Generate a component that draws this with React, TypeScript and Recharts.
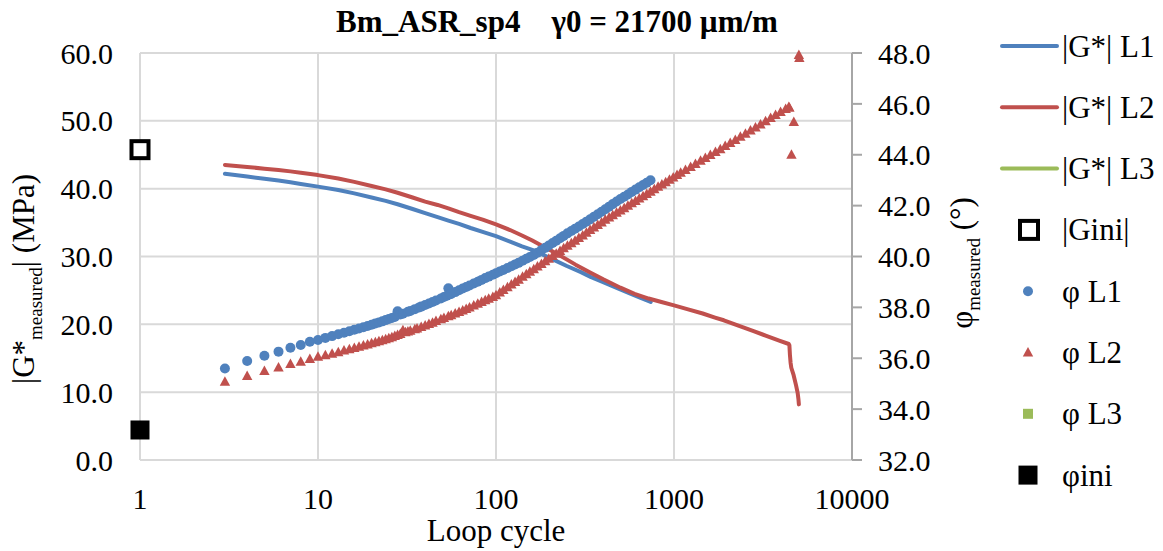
import React from 'react';
import { ComposedChart, Line, Scatter, XAxis, YAxis, CartesianGrid } from 'recharts';

const FONT = '"Liberation Serif", "Times New Roman", Times, serif';
const BLUE = '#4f81bd';
const RED = '#c0504d';
const GREEN = '#9bbb59';
const GRID = '#d9d9d9';
const AXIS = '#a6a6a6';

const xTicks = [1, 10, 100, 1000, 10000];
const leftTicks = [0, 10, 20, 30, 40, 50, 60];
const rightTicks = [32, 34, 36, 38, 40, 42, 44, 46, 48];

// |G*| L1 (MPa, left axis)
const gL1Cycles = [3, 4, 5, 6, 7, 8, 10, 13, 16, 20, 24, 28, 34, 40, 47, 54, 62, 72, 85, 100, 120, 140, 163, 200, 250, 300, 340, 400, 480, 560, 650, 740];
const gL1Values = [42.2, 41.8, 41.45, 41.2, 40.95, 40.7, 40.3, 39.8, 39.3, 38.7, 38.2, 37.7, 37.0, 36.4, 35.8, 35.3, 34.8, 34.2, 33.6, 33.0, 32.2, 31.5, 30.9, 29.8, 28.6, 27.7, 27.0, 26.2, 25.35, 24.6, 23.9, 23.3];

// |G*| L2 (MPa, left axis)
const gL2Cycles = [3, 4, 5, 6, 7, 8, 10, 13, 16, 20, 24, 28, 34, 40, 47, 54, 62, 72, 85, 100, 120, 140, 160, 178, 220, 280, 340, 403, 500, 600, 720, 850, 1000, 1200, 1450, 1700, 1905, 2300, 2800, 3300, 3900, 4415, 4450, 4480, 4520, 4560, 4700, 4850, 4950, 5000, 5030];
const gL2Values = [43.5, 43.2, 42.95, 42.75, 42.55, 42.35, 42.0, 41.5, 41.0, 40.4, 39.9, 39.4, 38.7, 38.1, 37.6, 37.1, 36.55, 36.0, 35.4, 34.75, 33.9, 33.1, 32.35, 31.7, 30.4, 28.8, 27.6, 26.6, 25.4, 24.5, 23.8, 23.3, 22.8, 22.2, 21.6, 21.0, 20.6, 19.8, 19.0, 18.3, 17.6, 17.1, 16.9, 15.5, 14.3, 13.6, 12.5, 11.0, 9.9, 9.0, 8.2];

// |Gini| (MPa, left axis)
const giniCycles = [1];
const giniValues = [45.75];

// φ L1 (°, right axis)
const phiL1Cycles = [3, 4, 5, 6, 7, 8, 9, 10, 11, 12, 13, 14, 15, 16, 17, 18, 19, 20, 21, 22, 23, 24, 25, 26, 27, 28, 29,
  30, 32, 33, 35, 37, 38, 40, 42, 44, 46, 49, 51, 53, 54, 55, 56, 59, 62, 65, 68, 71, 75, 79, 83, 87, 91, 96, 100,
  105, 110, 116, 122, 128, 134, 141, 148, 155, 163, 171, 180, 189, 198, 208, 218, 229, 240, 252, 265, 278, 292, 307,
  322, 338, 355, 373, 392, 411, 432, 453, 476, 500, 525, 551, 579, 608, 638, 670, 703, 738];
const phiL1Values = [35.6, 35.89, 36.1, 36.26, 36.41, 36.52, 36.65, 36.72, 36.8, 36.87, 36.94, 37.0, 37.06, 37.12, 37.17, 37.22, 37.27, 37.32, 37.37, 37.41, 37.45, 37.5, 37.54, 37.58, 37.62, 37.85, 37.72,
  37.75, 37.83, 37.86, 37.93, 38.0, 38.03, 38.09, 38.15, 38.21, 38.27, 38.35, 38.41, 38.46, 38.75, 38.52, 38.53, 38.6, 38.67, 38.74, 38.8, 38.86, 38.94, 39.01, 39.08, 39.15, 39.21, 39.28, 39.34,
  39.41, 39.47, 39.55, 39.62, 39.69, 39.75, 39.83, 39.91, 39.98, 40.06, 40.15, 40.25, 40.34, 40.43, 40.53, 40.62, 40.72, 40.81, 40.91, 41.0, 41.09, 41.18, 41.28,
  41.37, 41.46, 41.56, 41.66, 41.76, 41.86, 41.96, 42.06, 42.16, 42.26, 42.35, 42.44, 42.54, 42.63, 42.72, 42.81, 42.9, 43.0];

// φ L2 (°, right axis)
const phiL2Cycles = [3, 4, 5, 6, 7, 8, 9, 10, 11, 12, 13, 14, 15, 16, 17, 18, 19, 20, 21, 22, 23, 24, 25, 26, 27, 28, 29,
  30, 31, 32, 33, 35, 36, 38, 40, 42, 44, 46, 49, 51, 54, 56, 59, 62, 65, 68, 71, 75, 79, 83, 87, 91, 96, 100,
  105, 110, 116, 122, 128, 134, 141, 148, 155, 163, 171, 180, 189, 198, 208, 218, 229, 240, 252, 265, 278, 292, 307,
  322, 338, 355, 373, 392, 411, 432, 453, 476, 500, 525, 551, 579, 608, 638, 670, 703, 738, 775, 814, 855, 898, 943, 990, 1040,
  1090, 1160, 1240, 1320, 1410, 1500, 1600, 1710, 1820, 1940, 2070, 2210, 2360, 2520, 2690, 2870, 3060, 3270, 3490, 3720, 3970, 4240, 4415,
  4450, 4570, 4710, 5030, 5060];
const phiL2Values = [35.08, 35.3, 35.5, 35.64, 35.77, 35.86, 35.97, 36.06, 36.12, 36.18, 36.24, 36.3, 36.35, 36.4, 36.45, 36.5, 36.54, 36.59, 36.63, 36.67, 36.71, 36.75, 36.79, 36.83, 36.87, 36.91, 36.95,
  37.1, 37.02, 37.05, 37.08, 37.14, 37.17, 37.23, 37.29, 37.35, 37.4, 37.46, 37.53, 37.58, 37.65, 37.69, 37.76, 37.82, 37.88, 37.94, 38.0, 38.07, 38.14, 38.21, 38.28, 38.34, 38.41, 38.48,
  38.58, 38.68, 38.79, 38.9, 39.0, 39.09, 39.2, 39.3, 39.4, 39.5, 39.61, 39.71, 39.81, 39.91, 40.02, 40.11, 40.22, 40.32, 40.42, 40.52, 40.62, 40.73, 40.83,
  40.93, 41.04, 41.14, 41.24, 41.34, 41.44, 41.53, 41.62, 41.72, 41.81, 41.9, 42.0, 42.09, 42.18, 42.28, 42.37, 42.46, 42.55, 42.64, 42.74, 42.83, 42.92, 43.02, 43.11, 43.2,
  43.29, 43.4, 43.52, 43.64, 43.76, 43.87, 43.99, 44.11, 44.22, 44.34, 44.46, 44.58, 44.71, 44.83, 44.95, 45.07, 45.19, 45.32, 45.44, 45.56, 45.68, 45.8, 45.88,
  45.85, 44.0, 45.29, 47.92, 47.8];

// φini (°, right axis)
const phiIniCycles = [1];
const phiIniValues = [33.18];

const pts = (xs: number[], ys: number[]) => xs.map((x, i) => ({ x, y: ys[i] }));

const gL1 = pts(gL1Cycles, gL1Values);
const gL2 = pts(gL2Cycles, gL2Values);
const gini = pts(giniCycles, giniValues);
const phiL1 = pts(phiL1Cycles, phiL1Values);
const phiL2 = pts(phiL2Cycles, phiL2Values);
const phiIni = pts(phiIniCycles, phiIniValues);

const Circle = (p: any) => <circle cx={p.cx} cy={p.cy} r={5} fill={BLUE} />;
const Tri = (p: any) => (
  <polygon points={`${p.cx},${p.cy - 5.5} ${p.cx + 5.2},${p.cy + 4} ${p.cx - 5.2},${p.cy + 4}`} fill={RED} />
);
const OpenSq = (p: any) => (
  <rect x={p.cx - 8.5} y={p.cy - 8.5} width={17} height={17} fill="#fff" stroke="#000" strokeWidth={4} />
);
const FillSq = (p: any) => <rect x={p.cx - 9.5} y={p.cy - 9.5} width={19} height={19} fill="#000" />;

const tickStyle = { fontSize: 30, fill: '#000', fontFamily: FONT };

const legendRows = [46, 107.3, 168.6, 229.9, 291.2, 352.5, 413.8, 475.1];

export default function App() {
  return (
    <div style={{ position: 'absolute', left: 0, top: 0, width: 1163, height: 551, background: '#fff', fontFamily: FONT }}>
      <div style={{ position: 'absolute', left: 0, top: 0 }}>
        <ComposedChart width={1163} height={551} margin={{ top: 53, right: 201, bottom: 21, left: 40 }}>
          <CartesianGrid yAxisId="left" stroke={GRID} strokeWidth={2} horizontalValues={leftTicks} verticalValues={xTicks} />
          <XAxis
            dataKey="x"
            type="number"
            scale="log"
            domain={[1, 10000]}
            ticks={xTicks}
            height={70}
            tickLine={false}
            axisLine={{ stroke: GRID, strokeWidth: 2 }}
            tickSize={20}
            tickMargin={8}
            tick={tickStyle}
            interval={0}
          />
          <YAxis
            yAxisId="left"
            type="number"
            domain={[0, 60]}
            ticks={leftTicks}
            width={100}
            tickLine={false}
            axisLine={{ stroke: GRID, strokeWidth: 2 }}
            tickSize={25}
            tickMargin={2}
            tick={tickStyle}
            tickFormatter={(v: number) => v.toFixed(1)}
            interval={0}
          />
          <YAxis
            yAxisId="right"
            orientation="right"
            type="number"
            domain={[32, 48]}
            ticks={rightTicks}
            width={110}
            tickLine={{ stroke: AXIS, strokeWidth: 2 }}
            axisLine={{ stroke: AXIS, strokeWidth: 2 }}
            tickSize={10}
            tickMargin={16}
            tick={tickStyle}
            tickFormatter={(v: number) => v.toFixed(1)}
            interval={0}
          />
          <Line yAxisId="left" data={gL1} dataKey="y" type="linear" stroke={BLUE} strokeWidth={4} dot={false} activeDot={false} isAnimationActive={false} strokeLinejoin="round" strokeLinecap="round" />
          <Line yAxisId="left" data={gL2} dataKey="y" type="linear" stroke={RED} strokeWidth={4} dot={false} activeDot={false} isAnimationActive={false} strokeLinejoin="round" strokeLinecap="round" />
          <Scatter yAxisId="left" data={gini} dataKey="y" shape={OpenSq} isAnimationActive={false} />
          <Scatter yAxisId="right" data={phiL1} dataKey="y" shape={Circle} isAnimationActive={false} />
          <Scatter yAxisId="right" data={phiL2} dataKey="y" shape={Tri} isAnimationActive={false} />
          <Scatter yAxisId="right" data={phiIni} dataKey="y" shape={FillSq} isAnimationActive={false} />
        </ComposedChart>
      </div>
      <svg width={1163} height={551} style={{ position: 'absolute', left: 0, top: 0, pointerEvents: 'none' }} fontFamily={FONT}>
        <text x={557} y={32} textAnchor="middle" fontSize={31} fontWeight="bold" style={{ whiteSpace: 'pre' }}>
          {'Bm_ASR_sp4    γ0 = 21700 µm/m'}
        </text>
        <text transform="translate(33.5,279) rotate(-90)" textAnchor="middle" fontSize={31}>
          |G*<tspan fontSize={19} dy={8}>measured</tspan><tspan dy={-8}>| (MPa)</tspan>
        </text>
        <text transform="translate(972,263) rotate(-90)" textAnchor="middle" fontSize={31}>
          φ<tspan fontSize={19} dy={8}>measured</tspan><tspan dy={-8}> (°)</tspan>
        </text>
        <text x={496} y={541} textAnchor="middle" fontSize={31}>Loop cycle</text>

        <line x1={1002} x2={1057} y1={legendRows[0]} y2={legendRows[0]} stroke={BLUE} strokeWidth={4} strokeLinecap="round" />
        <line x1={1002} x2={1057} y1={legendRows[1]} y2={legendRows[1]} stroke={RED} strokeWidth={4} strokeLinecap="round" />
        <line x1={1002} x2={1057} y1={legendRows[2]} y2={legendRows[2]} stroke={GREEN} strokeWidth={4} strokeLinecap="round" />
        <rect x={1029 - 9} y={legendRows[3] - 9} width={18} height={18} fill="#fff" stroke="#000" strokeWidth={4} />
        <circle cx={1028} cy={legendRows[4]} r={5} fill={BLUE} />
        <polygon points={`1028,${legendRows[5] - 5.5} 1033.2,${legendRows[5] + 4} 1022.8,${legendRows[5] + 4}`} fill={RED} />
        <rect x={1023} y={legendRows[6] - 5} width={10} height={10} fill={GREEN} />
        <rect x={1018.5} y={legendRows[7] - 9.5} width={19} height={19} fill="#000" />

        {['|G*| L1', '|G*| L2', '|G*| L3', '|Gini|', 'φ L1', 'φ L2', 'φ L3', 'φini'].map((t, i) => (
          <text key={t} x={1062} y={legendRows[i] + 10.5} fontSize={31} style={{ whiteSpace: 'pre' }}>{t}</text>
        ))}
      </svg>
    </div>
  );
}
